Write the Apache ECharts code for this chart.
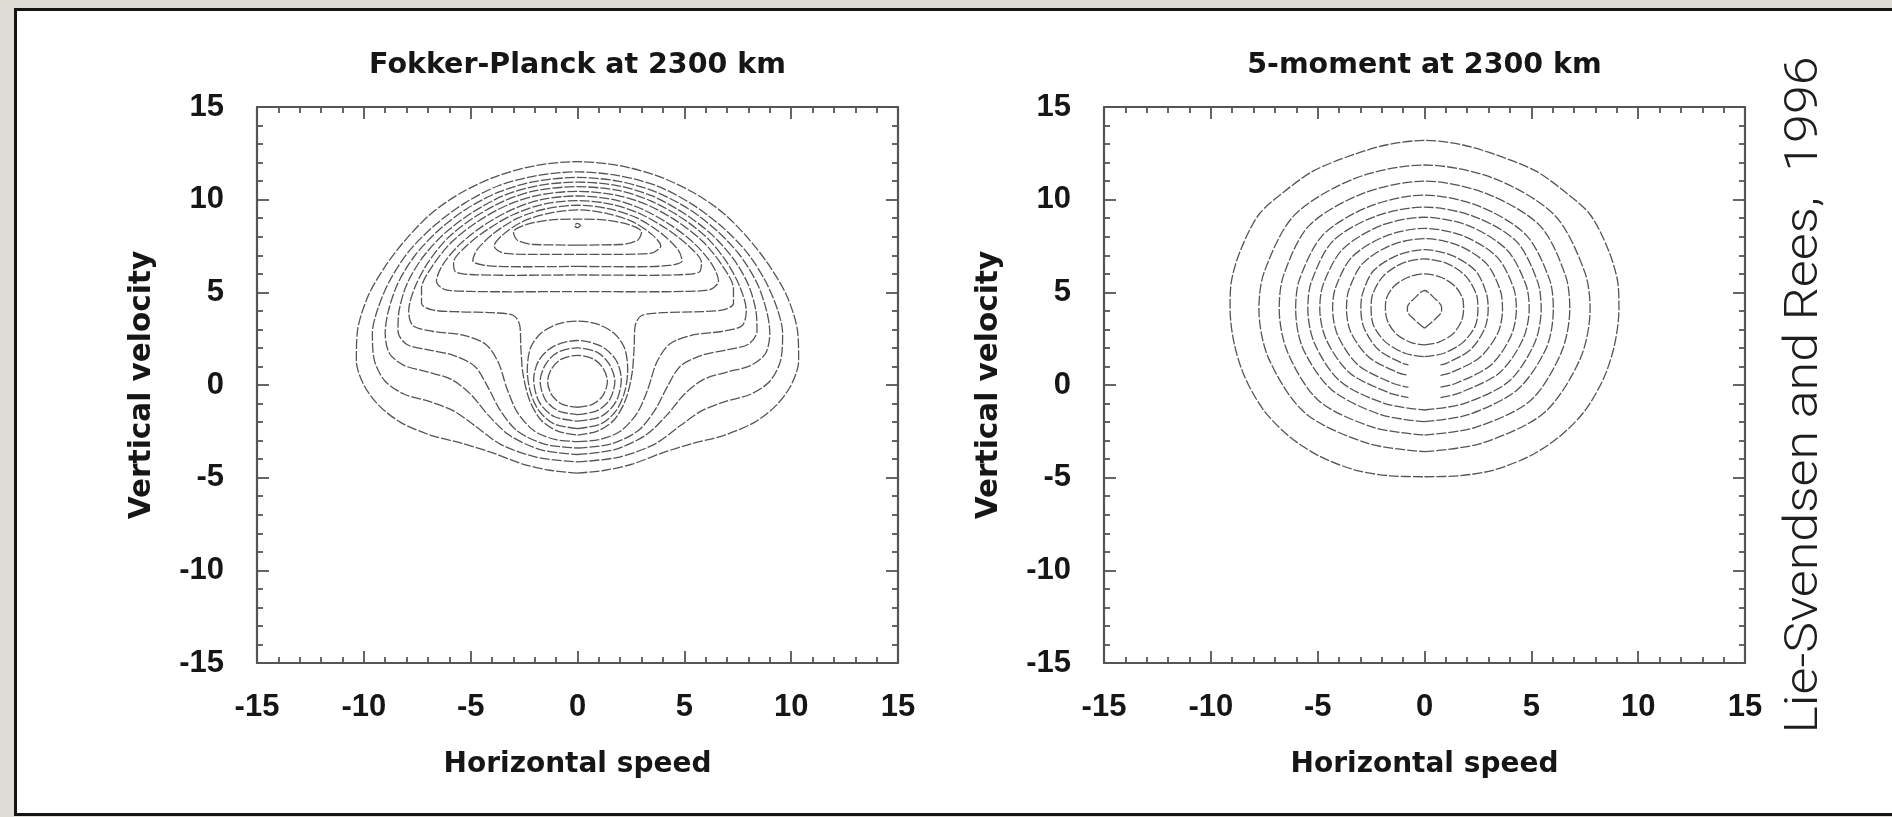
<!DOCTYPE html>
<html><head><meta charset="utf-8">
<script src="https://cdn.jsdelivr.net/npm/echarts@6/dist/echarts.min.js"></script>
<style>
html,body{margin:0;padding:0;background:#dddcd5;overflow:hidden;}
#panel{position:absolute;left:14px;top:8px;width:1900px;height:802px;background:#fff;border:3px solid #151515;}
#chart{position:absolute;left:0;top:0;width:1892px;height:817px;}
</style>
</head><body><div id="panel"></div><div id="chart"></div>
<script>
// ---- axes / labels ----
const axisMin = -15, axisMax = 15, majorStep = 5;
const tickLabels = ['-15', '-10', '-5', '0', '5', '10', '15'];
const panelTitles = ['Fokker-Planck at 2300 km', '5-moment at 2300 km'];
const xAxisName = 'Horizontal speed';
const yAxisName = 'Vertical velocity';
const creditText = 'Lie-Svendsen and Rees,  1996';

// ---- Fokker-Planck contours: right halves (x >= 0), listed from top to bottom ----
const fpL1 = [[0,12.05],[1.9,11.85],[3.7,11.3],[5.4,10.4],[6.8,9.3],[8.0,7.9],[9.0,6.4],[9.8,4.8],[10.3,2.9],[10.35,1.3],[10.0,0.0],[9.3,-1.1],[8.3,-2.0],[6.9,-2.7],[5.4,-3.15],[4.0,-3.65],[2.6,-4.25],[1.3,-4.6],[0,-4.75]];
const fpL2 = [[0,11.5],[1.9,11.3],[3.7,10.75],[5.3,9.8],[6.7,8.6],[7.9,7.2],[8.8,5.6],[9.35,4.1],[9.6,2.8],[9.5,1.3],[9.0,0.2],[8.1,-0.5],[6.9,-0.9],[5.8,-1.4],[4.8,-2.2],[3.6,-3.2],[1.9,-3.9],[0,-4.15]];
const fpL3 = [[0,11.2],[1.9,11.0],[3.6,10.45],[5.2,9.5],[6.5,8.35],[7.6,7.0],[8.4,5.5],[8.85,4.0],[9.0,2.8],[8.8,1.7],[8.1,1.05],[7.0,0.7],[5.9,0.3],[5.0,-0.5],[4.2,-1.6],[3.2,-2.7],[1.7,-3.5],[0,-3.75]];
const fpL4 = [[0,10.95],[1.9,10.75],[3.5,10.2],[5.0,9.25],[6.3,8.1],[7.3,6.8],[8.0,5.4],[8.35,4.0],[8.4,2.9],[8.0,2.2],[7.0,1.9],[5.8,1.6],[4.8,1.0],[4.2,-0.1],[3.6,-1.4],[2.8,-2.5],[1.5,-3.2],[0,-3.4]];
const fpL5 = [[0,10.7],[1.9,10.5],[3.4,9.95],[4.9,9.0],[6.1,7.9],[7.0,6.6],[7.6,5.3],[7.9,4.0],[7.7,3.2],[6.8,2.9],[5.4,2.7],[4.3,2.2],[3.7,1.2],[3.3,-0.2],[2.8,-1.5],[2.0,-2.5],[1.0,-2.95],[0,-3.05]];
const fpL6 = [[0,10.45],[1.8,10.25],[3.3,9.7],[4.7,8.8],[5.9,7.7],[6.8,6.4],[7.3,5.2],[7.3,4.4],[6.8,4.05],[5.5,3.95],[4.0,3.9],[3.0,3.75],[2.7,3.2],[2.65,2.0],[2.55,0.6],[2.25,-0.8],[1.7,-1.9],[0.9,-2.5],[0,-2.7]];
const fpCap1 = [[0,10.2],[1.7,10.0],[3.1,9.45],[4.4,8.6],[5.5,7.6],[6.3,6.5],[6.6,5.6],[6.2,5.15],[5.0,5.05],[3.0,5.03],[0,5.04]];
const fpCap2 = [[0,9.95],[1.6,9.75],[3.0,9.2],[4.2,8.4],[5.2,7.5],[5.8,6.6],[5.7,6.1],[4.8,5.95],[3.0,5.92],[0,5.94]];
const fpCap3 = [[0,9.7],[1.5,9.5],[2.8,9.0],[3.9,8.2],[4.7,7.3],[4.9,6.7],[4.3,6.45],[2.5,6.38],[0,6.4]];
const fpCap4 = [[0,9.45],[1.4,9.25],[2.6,8.8],[3.5,8.1],[3.9,7.5],[3.4,7.1],[2.0,7.05],[0,7.05]];
const fpBowl = [[0,8.95],[1.3,8.9],[2.4,8.65],[3.0,8.25],[2.8,7.8],[2.0,7.58],[0,7.55]];
const fpPeak = [[0,8.72],[0.14,8.6],[0,8.48]];
const fpCore4 = [[0,3.45],[0.9,3.3],[1.7,2.8],[2.2,2.0],[2.35,0.8],[2.2,-0.4],[1.8,-1.4],[1.1,-2.1],[0,-2.35]];
const fpCore3 = [[0,2.4],[1.1,2.1],[1.8,1.35],[2.05,0.3],[1.8,-0.9],[1.1,-1.7],[0,-1.95]];
const fpCore2 = [[0,2.0],[0.95,1.75],[1.5,1.1],[1.75,0.2],[1.5,-0.8],[0.9,-1.4],[0,-1.6]];
const fpCore1 = [[0,1.6],[0.75,1.4],[1.2,0.9],[1.4,0.2],[1.2,-0.55],[0.7,-1.05],[0,-1.2]];

// ---- 5-moment contours: right halves (x >= 0), top to bottom; a last x > 0 leaves a gap at the bottom ----
const fmR1 = [[0,13.2],[1.8,12.95],[3.4,12.4],[5.2,11.55],[6.6,10.4],[7.75,9.2],[8.6,7.3],[9.05,5.5],[9.1,4.1],[8.9,2.2],[8.4,0.4],[7.5,-1.4],[6.3,-2.8],[4.9,-3.85],[3.2,-4.6],[1.6,-4.9],[0,-4.95]];
const fmR2 = [[0,11.87],[3.25,11.15],[6.1,9.15],[7.5,6.1],[7.75,4.1],[7.3,1.45],[5.6,-1.5],[2.65,-3.15],[0,-3.6]];
const fmR3 = [[0,11.0],[2.85,10.35],[5.4,8.6],[6.6,5.9],[6.8,4.1],[6.4,1.75],[4.95,-0.85],[2.35,-2.3],[0,-2.7]];
const fmR4 = [[0,10.25],[2.55,9.65],[4.75,8.1],[5.85,5.7],[6.03,4.1],[5.7,2.0],[4.35,-0.25],[2.05,-1.6],[0,-1.98]];
const fmR5 = [[0,9.6],[2.3,9.1],[4.3,7.75],[5.3,5.55],[5.46,4.1],[5.15,2.25],[3.95,0.2],[1.85,-1.0],[0,-1.35]];
const fmR6 = [[0,9.05],[2.05,8.6],[3.85,7.3],[4.75,5.4],[4.9,4.1],[4.6,2.45],[3.5,0.65],[1.65,-0.42],[0.75,-0.68]];
const fmR7 = [[0,8.45],[1.8,8.05],[3.4,6.9],[4.17,5.23],[4.3,4.1],[4.05,2.65],[3.1,1.07],[1.45,0.08],[0.75,-0.12]];
const fmR8 = [[0,7.9],[1.55,7.55],[2.9,6.55],[3.55,5.1],[3.65,4.1],[3.45,2.85],[2.6,1.5],[1.25,0.67],[0.75,0.52]];
const fmR9 = [[0,7.3],[1.3,6.98],[2.4,6.15],[2.9,4.93],[2.98,4.1],[2.82,3.05],[2.15,1.9],[1.05,1.18],[0.75,1.08]];
const fmR10 = [[0,6.8],[1.07,6.55],[1.95,5.85],[2.45,4.8],[2.5,4.1],[2.38,3.2],[1.8,2.3],[0.88,1.7],[0,1.53]];
const fmR11 = [[0,6.0],[0.8,5.8],[1.45,5.3],[1.8,4.6],[1.83,4.1],[1.73,3.45],[1.32,2.75],[0.65,2.3],[0,2.16]];
const fmR12 = [[0,5.1],[0.45,4.7],[0.8,4.2],[0.8,4.0],[0.45,3.5],[0,3.06]];

const fpContours = [fpL1, fpL2, fpL3, fpL4, fpL5, fpL6, fpCap1, fpCap2, fpCap3, fpCap4, fpBowl, fpPeak, fpCore4, fpCore3, fpCore2, fpCore1];
const fmContours = [fmR1, fmR2, fmR3, fmR4, fmR5, fmR6, fmR7, fmR8, fmR9, fmR10, fmR11, fmR12];

// mirror a right half about x = 0 into a full contour path
function fullContour(half) {
  const up = half.slice().reverse();
  const down = half.slice(1).map(p => [-p[0], p[1]]);
  return up.concat(down);
}

const lineColor = '#555555';
const tickFont = {fontFamily: 'Liberation Sans, Arial, sans-serif', fontWeight: 'bold', fontSize: 31, color: '#161616'};
const nameFontH = {fontFamily: 'DejaVu Sans, sans-serif', fontWeight: 'bold', fontSize: 28, color: '#161616'};
const nameFontV = {fontFamily: 'DejaVu Sans, sans-serif', fontWeight: 'bold', fontSize: 29.5, color: '#161616'};

const gridBoxes = [
  {left: 257, top: 107, width: 641, height: 556},
  {left: 1104, top: 107, width: 641, height: 556}
];

function makeAxis(kind, gridIndex, position, withLabels) {
  const ax = {
    type: 'value', gridIndex, position, min: axisMin, max: axisMax, interval: majorStep,
    axisLine: {show: true, onZero: false, lineStyle: {color: lineColor, width: 2.2}},
    axisTick: {show: true, inside: true, length: 12, lineStyle: {color: lineColor, width: 1.8}},
    minorTick: {show: true, splitNumber: 5, length: 6, lineStyle: {color: lineColor, width: 1.8}},
    splitLine: {show: false}, minorSplitLine: {show: false},
    axisLabel: withLabels ? Object.assign({show: true, margin: kind === 'x' ? 29 : 33,
      formatter: v => tickLabels[Math.round((v - axisMin) / majorStep)]}, tickFont) : {show: false}
  };
  if (withLabels) {
    if (kind === 'x') {
      ax.name = xAxisName; ax.nameLocation = 'middle'; ax.nameGap = 88; ax.nameTextStyle = nameFontH;
    } else {
      ax.name = yAxisName; ax.nameLocation = 'middle'; ax.nameGap = 100; ax.nameTextStyle = nameFontV;
    }
  }
  return ax;
}

const series = [];
fpContours.forEach(h => series.push({
  type: 'line', xAxisIndex: 0, yAxisIndex: 0, data: fullContour(h), symbol: 'none', smooth: 0.3,
  silent: true, lineStyle: {color: lineColor, width: 1.3, type: [10, 2]}
}));
fmContours.forEach(h => series.push({
  type: 'line', xAxisIndex: 2, yAxisIndex: 2, data: fullContour(h), symbol: 'none', smooth: 0.3,
  silent: true, lineStyle: {color: lineColor, width: 1.3, type: [10, 2]}
}));

const chart = echarts.init(document.getElementById('chart'));
chart.setOption({
  animation: false,
  title: panelTitles.map((t, i) => ({
    text: t, left: gridBoxes[i].left + gridBoxes[i].width / 2 - 5, top: 46, textAlign: 'center',
    textStyle: {fontFamily: 'DejaVu Sans, sans-serif', fontWeight: 'bold', fontSize: 28.5, color: '#161616'}
  })),
  grid: gridBoxes.map(g => Object.assign({containLabel: false}, g)),
  xAxis: [makeAxis('x', 0, 'bottom', true), makeAxis('x', 0, 'top', false),
          makeAxis('x', 1, 'bottom', true), makeAxis('x', 1, 'top', false)],
  yAxis: [makeAxis('y', 0, 'left', true), makeAxis('y', 0, 'right', false),
          makeAxis('y', 1, 'left', true), makeAxis('y', 1, 'right', false)],
  graphic: [{
    type: 'text', x: 1806, y: 395, rotation: Math.PI / 2, scaleY: 0.88, z: 100,
    style: {text: creditText, fill: '#1e1e1e', font: '300 52px Roboto, "Open Sans", sans-serif',
      align: 'center', verticalAlign: 'middle', textAlign: 'center', textVerticalAlign: 'middle'}
  }],
  series
});
</script>
</body></html>
